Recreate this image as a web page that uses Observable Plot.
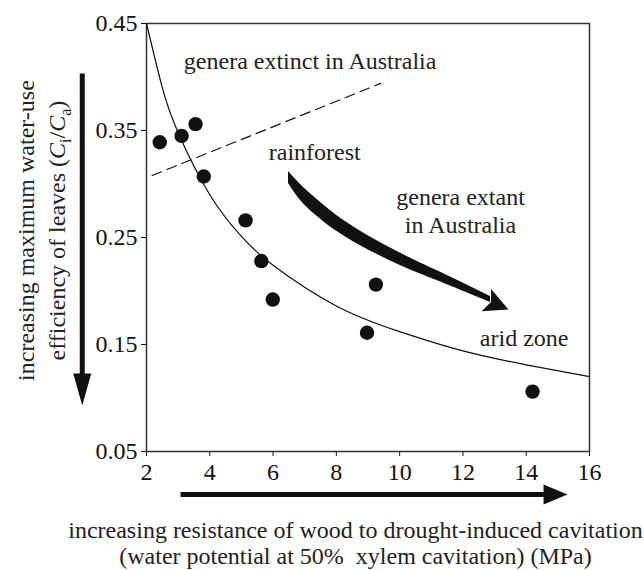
<!DOCTYPE html>
<html><head><meta charset="utf-8">
<script src="https://cdn.jsdelivr.net/npm/d3@7"></script>
<script src="https://cdn.jsdelivr.net/npm/@observablehq/plot@0.6"></script>
<style>
html,body{margin:0;padding:0;background:#fff;}
#chart{width:644px;height:570px;}
#chart svg, #chart svg text, #chart svg tspan { font-family: "Liberation Serif", "Times New Roman", Times, serif !important; }
</style>
</head><body><div id="chart"></div>
<script>
// observed genera (x: MPa, y: Ci/Ca)
const pointX = [2.42, 3.11, 3.55, 3.81, 5.13, 5.63, 5.99, 9.25, 8.97, 14.2];
const pointY = [0.339, 0.345, 0.356, 0.307, 0.266, 0.228, 0.192, 0.206, 0.161, 0.106];
// fitted curve
const curveX = [2, 2.5, 3, 4, 5, 6, 8, 10, 12, 14, 16];
const curveY = [0.450, 0.390, 0.348, 0.290, 0.251, 0.224, 0.186, 0.162, 0.144, 0.131, 0.120];
// dashed boundary line
const dashX = [2.18, 9.40];
const dashY = [0.308, 0.394];
// tick values
const xTicks = [2, 4, 6, 8, 10, 12, 14, 16];
const yTicks = [0.05, 0.15, 0.25, 0.35, 0.45];
// in-plot labels
const noteText = ["genera extinct in Australia", "rainforest", "arid zone", "genera extant", "in Australia"];
const noteX = [3.18, 5.865, 12.534, 11.924, 11.924];
const noteY = [0.4149, 0.3292, 0.1561, 0.2871, 0.2612];
const noteAnchor = ["start", "start", "start", "middle", "middle"];
// curved arrow path (rainforest -> arid zone)
const arrowX = [6.488, 6.867, 7.341, 7.973, 8.763, 9.711, 10.659, 11.607, 12.239, 12.871];
const arrowY = [0.3061, 0.2921, 0.2790, 0.2640, 0.2491, 0.2341, 0.2210, 0.2089, 0.2005, 0.1921];
const arrowT = [0.0112, 0.0150, 0.0159, 0.0150, 0.0136, 0.0121, 0.0103, 0.0084, 0.0070, 0.0056];
const arrowTip = {x: 13.44, y: 0.1827};
// axis titles
const yTitle1 = "increasing maximum water-use";
const yTitle2 = "efficiency of leaves (Ci/Ca)";
const xTitle1 = "increasing resistance of wood to drought-induced cavitation";
const xTitle2 = "(water potential at 50%  xylem cavitation) (MPa)";

const points = pointX.map((x, i) => ({x, y: pointY[i]}));
const curve = curveX.map((x, i) => ({x, y: curveY[i]}));
const dash = dashX.map((x, i) => ({x, y: dashY[i]}));
const notes = noteText.map((t, i) => ({text: t, x: noteX[i], y: noteY[i], anchor: noteAnchor[i]}));
const arrow = arrowX.map((x, i) => ({x, y1: arrowY[i] - arrowT[i] / 2, y2: arrowY[i] + arrowT[i] / 2}));

function head(L, w, notch) {
  return {draw(ctx) { ctx.moveTo(0, 0); ctx.lineTo(w, L); ctx.lineTo(0, notch); ctx.lineTo(-w, L); ctx.closePath(); }};
}

const chart = Plot.plot({
  width: 644, height: 570,
  marginLeft: 146, marginRight: 55, marginTop: 23, marginBottom: 119,
  style: {fontFamily: "Liberation Serif, serif", fontSize: "24px", background: "white", color: "#111"},
  x: {domain: [2, 16], ticks: xTicks, tickSize: 5, tickPadding: 6, label: null},
  y: {domain: [0.05, 0.45], ticks: yTicks, tickFormat: d3.format(".2f"), tickSize: 5, tickPadding: 4, label: null},
  marks: [
    Plot.frame({stroke: "#333", strokeWidth: 1.5}),
    Plot.line(curve, {x: "x", y: "y", curve: "natural", stroke: "#111", strokeWidth: 1.2}),
    Plot.line(dash, {x: "x", y: "y", stroke: "#111", strokeWidth: 1.2, strokeDasharray: "10,6"}),
    Plot.dot(points, {x: "x", y: "y", r: 7.2, fill: "#111", stroke: "none"}),
    Plot.text(notes.filter(d => d.anchor === "start"), {x: "x", y: "y", text: "text", textAnchor: "start", fill: "#222"}),
    Plot.text(notes.filter(d => d.anchor === "middle"), {x: "x", y: "y", text: "text", textAnchor: "middle", fill: "#222"}),
    // curved arrow
    Plot.areaY(arrow, {x: "x", y1: "y1", y2: "y2", curve: "natural", fill: "#111"}),
    Plot.dot([arrowTip], {x: "x", y: "y", symbol: head(24, 12, 19), rotate: 113, fill: "#111", stroke: "none"}),
    // y-axis direction arrow
    Plot.link([{x: -0.03, y1: 0.4033, y2: 0.115}], {x1: "x", x2: "x", y1: "y1", y2: "y2", stroke: "#111", strokeWidth: 5}),
    Plot.dot([{x: -0.03, y: 0.093}], {x: "x", y: "y", symbol: head(32, 9, 32), rotate: 180, fill: "#111", stroke: "none"}),
    // x-axis direction arrow
    Plot.link([{y: 0.0098, x1: 3.075, x2: 14.8}], {x1: "x1", x2: "x2", y1: "y", y2: "y", stroke: "#111", strokeWidth: 5}),
    Plot.dot([{x: 15.306, y: 0.0098}], {x: "x", y: "y", symbol: head(24, 10, 24), rotate: 90, fill: "#111", stroke: "none"}),
    // axis titles
    Plot.text([{t: yTitle1, x: -1.814, y: 0.2565}, {t: yTitle2, x: -0.803, y: 0.2565}], {x: "x", y: "y", text: "t", rotate: -90, fill: "#222"}),
    Plot.text([{t: xTitle1, x: 8.605, y: -0.0241}, {t: xTitle2, x: 8.605, y: -0.0484}], {x: "x", y: "y", text: "t", fill: "#222"})
  ]
});

// rich text for the C_i / C_a label
d3.select(chart).selectAll("text").filter(function() { return this.textContent === yTitle2; }).each(function() {
  const t = d3.select(this);
  t.text(null);
  t.append("tspan").text("efficiency of leaves (");
  t.append("tspan").attr("font-style", "italic").text("C");
  t.append("tspan").attr("font-size", "16px").attr("dy", "6").text("i");
  t.append("tspan").attr("dy", "-6").text("/");
  t.append("tspan").attr("font-style", "italic").text("C");
  t.append("tspan").attr("font-size", "16px").attr("dy", "6").text("a");
  t.append("tspan").attr("dy", "-6").text(")");
});

document.getElementById("chart").appendChild(chart);
</script>
</body></html>
